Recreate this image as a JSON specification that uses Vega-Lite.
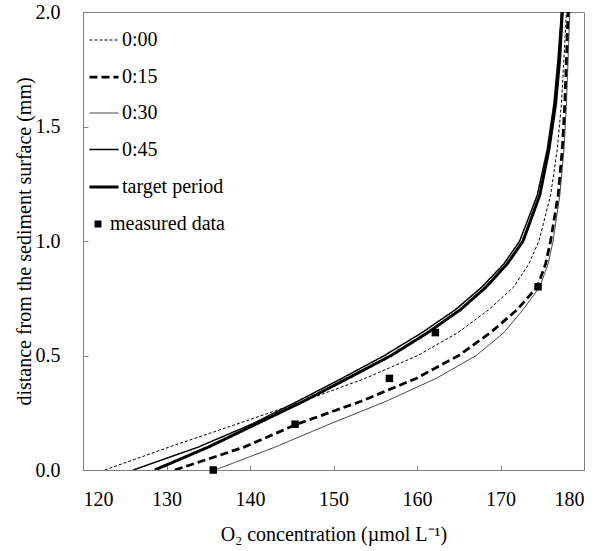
{
  "$schema": "https://vega.github.io/schema/vega-lite/v6.json",
  "width": 501,
  "height": 458,
  "autosize": {"type": "none"},
  "padding": {"left": 83, "top": 12, "right": 19, "bottom": 81},
  "background": "white",
  "config": {
    "font": "Times New Roman",
    "view": {"stroke": "#808080", "strokeWidth": 1},
    "axis": {
      "grid": false,
      "domainColor": "#808080",
      "tickColor": "#808080",
      "labelFont": "Times New Roman",
      "titleFont": "Times New Roman",
      "labelFontSize": 20,
      "titleFontSize": 20,
      "labelColor": "black",
      "titleColor": "black",
      "titleFontWeight": "normal",
      "tickSize": -5
    },
    "legend": {
      "labelFont": "Times New Roman",
      "labelFontSize": 20,
      "labelColor": "black",
      "labelLimit": 300,
      "title": null,
      "padding": 0,
      "orient": "none"
    }
  },
  "data": {
    "values": [
      {"series": "0:00", "o2": 122.6, "depth": 0},
      {"series": "0:00", "o2": 130.3, "depth": 0.1},
      {"series": "0:00", "o2": 138.4, "depth": 0.2},
      {"series": "0:00", "o2": 146.3, "depth": 0.3},
      {"series": "0:00", "o2": 153.8, "depth": 0.4},
      {"series": "0:00", "o2": 160.1, "depth": 0.5},
      {"series": "0:00", "o2": 164.9, "depth": 0.6},
      {"series": "0:00", "o2": 168.6, "depth": 0.7},
      {"series": "0:00", "o2": 171.6, "depth": 0.8},
      {"series": "0:00", "o2": 173.4, "depth": 0.9},
      {"series": "0:00", "o2": 174.6, "depth": 1.0},
      {"series": "0:00", "o2": 176.0, "depth": 1.2},
      {"series": "0:00", "o2": 176.8, "depth": 1.4},
      {"series": "0:00", "o2": 177.3, "depth": 1.6},
      {"series": "0:00", "o2": 177.6, "depth": 1.8},
      {"series": "0:00", "o2": 177.9, "depth": 2.0},
      {"series": "0:15", "o2": 131.0, "depth": 0},
      {"series": "0:15", "o2": 139.3, "depth": 0.1},
      {"series": "0:15", "o2": 145.6, "depth": 0.2},
      {"series": "0:15", "o2": 153.3, "depth": 0.3},
      {"series": "0:15", "o2": 159.9, "depth": 0.4},
      {"series": "0:15", "o2": 165.0, "depth": 0.5},
      {"series": "0:15", "o2": 168.8, "depth": 0.6},
      {"series": "0:15", "o2": 172.0, "depth": 0.7},
      {"series": "0:15", "o2": 174.4, "depth": 0.8},
      {"series": "0:15", "o2": 175.4, "depth": 0.9},
      {"series": "0:15", "o2": 176.0, "depth": 1.0},
      {"series": "0:15", "o2": 176.9, "depth": 1.2},
      {"series": "0:15", "o2": 177.4, "depth": 1.4},
      {"series": "0:15", "o2": 177.7, "depth": 1.6},
      {"series": "0:15", "o2": 177.9, "depth": 1.8},
      {"series": "0:15", "o2": 178.1, "depth": 2.0},
      {"series": "0:30", "o2": 135.8, "depth": 0},
      {"series": "0:30", "o2": 143.0, "depth": 0.1},
      {"series": "0:30", "o2": 149.5, "depth": 0.2},
      {"series": "0:30", "o2": 156.3, "depth": 0.3},
      {"series": "0:30", "o2": 162.3, "depth": 0.4},
      {"series": "0:30", "o2": 167.1, "depth": 0.5},
      {"series": "0:30", "o2": 170.4, "depth": 0.6},
      {"series": "0:30", "o2": 172.7, "depth": 0.7},
      {"series": "0:30", "o2": 174.7, "depth": 0.8},
      {"series": "0:30", "o2": 175.7, "depth": 0.9},
      {"series": "0:30", "o2": 176.3, "depth": 1.0},
      {"series": "0:30", "o2": 177.1, "depth": 1.2},
      {"series": "0:30", "o2": 177.6, "depth": 1.4},
      {"series": "0:30", "o2": 177.9, "depth": 1.6},
      {"series": "0:30", "o2": 178.1, "depth": 1.8},
      {"series": "0:30", "o2": 178.3, "depth": 2.0},
      {"series": "0:45", "o2": 126.0, "depth": 0},
      {"series": "0:45", "o2": 133.8, "depth": 0.1},
      {"series": "0:45", "o2": 140.2, "depth": 0.2},
      {"series": "0:45", "o2": 145.7, "depth": 0.3},
      {"series": "0:45", "o2": 151.0, "depth": 0.4},
      {"series": "0:45", "o2": 156.1, "depth": 0.5},
      {"series": "0:45", "o2": 160.6, "depth": 0.6},
      {"series": "0:45", "o2": 164.6, "depth": 0.7},
      {"series": "0:45", "o2": 167.8, "depth": 0.8},
      {"series": "0:45", "o2": 170.4, "depth": 0.9},
      {"series": "0:45", "o2": 172.3, "depth": 1.0},
      {"series": "0:45", "o2": 174.4, "depth": 1.2},
      {"series": "0:45", "o2": 175.6, "depth": 1.4},
      {"series": "0:45", "o2": 176.4, "depth": 1.6},
      {"series": "0:45", "o2": 176.9, "depth": 1.8},
      {"series": "0:45", "o2": 177.3, "depth": 2.0},
      {"series": "target period", "o2": 128.6, "depth": 0},
      {"series": "target period", "o2": 135.0, "depth": 0.1},
      {"series": "target period", "o2": 140.7, "depth": 0.2},
      {"series": "target period", "o2": 146.4, "depth": 0.3},
      {"series": "target period", "o2": 151.7, "depth": 0.4},
      {"series": "target period", "o2": 156.9, "depth": 0.5},
      {"series": "target period", "o2": 161.3, "depth": 0.6},
      {"series": "target period", "o2": 165.2, "depth": 0.7},
      {"series": "target period", "o2": 168.3, "depth": 0.8},
      {"series": "target period", "o2": 170.8, "depth": 0.9},
      {"series": "target period", "o2": 172.7, "depth": 1.0},
      {"series": "target period", "o2": 174.7, "depth": 1.2},
      {"series": "target period", "o2": 175.8, "depth": 1.4},
      {"series": "target period", "o2": 176.6, "depth": 1.6},
      {"series": "target period", "o2": 177.1, "depth": 1.8},
      {"series": "target period", "o2": 177.4, "depth": 2.0},
      {"series": "measured data", "o2": 135.6, "depth": 0},
      {"series": "measured data", "o2": 145.4, "depth": 0.2},
      {"series": "measured data", "o2": 156.7, "depth": 0.4},
      {"series": "measured data", "o2": 162.2, "depth": 0.6},
      {"series": "measured data", "o2": 174.5, "depth": 0.8}
    ]
  },
  "encoding": {
    "x": {
      "field": "o2",
      "type": "quantitative",
      "scale": {"domain": [120, 180], "nice": false, "zero": false},
      "axis": {
        "values": [120, 130, 140, 150, 160, 170, 180],
        "labelPadding": 24,
        "titlePadding": 15,
        "title": "O₂ concentration (µmol L⁻¹)"
      }
    },
    "y": {
      "field": "depth",
      "type": "quantitative",
      "scale": {"domain": [0, 2], "nice": false},
      "axis": {
        "values": [0, 0.5, 1, 1.5, 2],
        "format": ".1f",
        "labelPadding": 28,
        "titlePadding": 1,
        "title": "distance from the sediment surface (mm)"
      }
    }
  },
  "layer": [
    {
      "transform": [{"filter": "datum.series !== 'measured data'"}],
      "mark": {"type": "line", "color": "black", "clip": true},
      "encoding": {
        "order": {"field": "depth", "type": "quantitative"},
        "strokeDash": {
          "field": "series",
          "type": "nominal",
          "scale": {
            "domain": ["0:00", "0:15", "0:30", "0:45", "target period"],
            "range": [[3, 2], [8, 4], [1, 0], [1, 0], [1, 0]]
          },
          "legend": {
            "orient": "none",
            "legendX": 5,
            "legendY": 13,
            "symbolType": "stroke",
            "symbolSize": 841,
            "rowPadding": 11,
            "labelOffset": 2,
            "symbolStrokeColor": "black"
          }
        },
        "strokeWidth": {
          "field": "series",
          "type": "nominal",
          "scale": {
            "type": "ordinal",
            "domain": ["0:00", "0:15", "0:30", "0:45", "target period"],
            "range": [1, 2.75, 0.8, 1.5, 3]
          },
          "legend": {
            "orient": "none",
            "legendX": 5,
            "legendY": 13,
            "symbolType": "stroke",
            "symbolSize": 841,
            "rowPadding": 11,
            "labelOffset": 2,
            "symbolStrokeColor": "black"
          }
        }
      }
    },
    {
      "transform": [{"filter": "datum.series === 'measured data'"}],
      "mark": {"type": "point", "color": "black", "filled": true, "size": 56, "opacity": 1},
      "encoding": {
        "shape": {
          "field": "series",
          "type": "nominal",
          "scale": {"domain": ["measured data"], "range": ["square"]},
          "legend": {
            "orient": "none",
            "legendX": 5,
            "legendY": 202,
            "symbolSize": 49,
            "labelOffset": 2,
            "symbolFillColor": "black",
            "symbolStrokeColor": "black"
          }
        }
      }
    }
  ]
}
